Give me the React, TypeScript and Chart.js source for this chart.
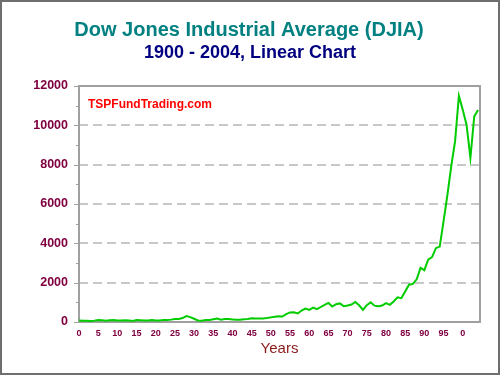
import React, { useEffect, useRef } from 'react';
import { Chart, registerables } from 'chart.js';

Chart.register(...registerables);

const years: number[] = [];
for (let y = 1900; y <= 2004; y++) years.push(y);

const djia: number[] = [
  70.7, 64.6, 64.3, 49.1, 69.6, 96.2, 94.4, 58.8, 86.2, 99.1,
  81.4, 81.7, 88.0, 78.8, 54.6, 99.2, 95.0, 74.4, 82.2, 107.2,
  71.9, 81.1, 98.7, 95.5, 120.5, 156.7, 157.2, 202.4, 300.0, 248.5,
  164.6, 77.9, 59.9, 99.9, 104.0, 144.1, 179.9, 121.0, 155.0, 150.2,
  131.1, 111.0, 119.4, 135.9, 152.3, 192.9, 177.2, 181.2, 177.3, 200.1,
  235.4, 269.2, 291.9, 280.9, 404.4, 488.4, 499.5, 435.7, 583.7, 679.4,
  615.9, 731.1, 652.1, 762.9, 874.1, 969.3, 785.7, 905.1, 943.8, 800.4,
  838.9, 890.2, 1020.0, 850.9, 616.2, 852.4, 1004.7, 831.2, 805.0, 838.7,
  964.0, 875.0, 1046.5, 1258.6, 1211.6, 1546.7, 1896.0, 1938.8, 2168.6, 2753.2,
  2633.7, 3168.8, 3301.1, 3754.1, 3834.4, 5117.1, 6448.3, 7908.3, 9181.4, 11497.1,
  10786.9, 10021.5, 8341.6, 10453.9, 10783.0,
];

const yMin = 0;
const yMax = 12000;
const yMajorStep = 2000;
const yMinorStep = 1000;
const xMin = 1900;
const xMax = 2004.5;
const xStep = 5;

const titleText = 'Dow Jones Industrial Average (DJIA)';
const subtitleText = '1900 - 2004, Linear Chart';
const watermarkText = 'TSPFundTrading.com';
const xTitleText = 'Years';

const FONT = 'Arial, "Liberation Sans", sans-serif';

export default function App() {
  const ref = useRef<HTMLCanvasElement>(null);

  useEffect(() => {
    document.body.style.margin = '0';
    const canvas = ref.current;
    if (!canvas) return;

    const decor = {
      id: 'decor',
      beforeDraw(chart: any) {
        const { ctx, width, height } = chart;
        ctx.save();
        ctx.fillStyle = '#ffffff';
        ctx.fillRect(0, 0, width, height);
        ctx.restore();
      },
      beforeDatasetsDraw(chart: any) {
        const { ctx, chartArea } = chart;
        const { left, top, right, bottom } = chartArea;
        const yScale = chart.scales.y;
        ctx.save();
        ctx.strokeStyle = '#a0a0a0';
        ctx.lineWidth = 2;
        ctx.setLineDash([]);
        ctx.strokeRect(left, top, right - left, bottom - top);
        ctx.lineWidth = 1;
        for (let v = yMin; v <= yMax; v += yMinorStep) {
          const py = Math.round(yScale.getPixelForValue(v)) + 0.5;
          const len = v % yMajorStep === 0 ? 4 : 2;
          ctx.beginPath();
          ctx.moveTo(left - 1 - len, py);
          ctx.lineTo(left - 1, py);
          ctx.stroke();
        }
        ctx.restore();
      },
      afterDraw(chart: any) {
        const { ctx, width, height, chartArea } = chart;
        ctx.save();
        ctx.textAlign = 'center';
        ctx.textBaseline = 'alphabetic';
        ctx.fillStyle = '#008080';
        ctx.font = `bold 20px ${FONT}`;
        ctx.fillText(titleText, 249, 36);
        ctx.fillStyle = '#000080';
        ctx.font = `bold 18px ${FONT}`;
        ctx.fillText(subtitleText, 250, 58);
        ctx.textAlign = 'left';
        ctx.fillStyle = '#ff0000';
        ctx.font = `bold 12px ${FONT}`;
        ctx.fillText(watermarkText, chartArea.left + 9, 108);
        ctx.strokeStyle = '#6e6e6e';
        ctx.lineWidth = 2;
        ctx.strokeRect(1, 1, width - 2, height - 2);
        ctx.restore();
      },
    };

    const chart = new Chart(canvas, {
      type: 'line',
      data: {
        datasets: [
          {
            data: years.map((yr, i) => ({ x: yr, y: djia[i] })),
            borderColor: '#00cc00',
            backgroundColor: '#00cc00',
            borderWidth: 2,
            pointRadius: 0,
            tension: 0,
            fill: false,
          },
        ],
      },
      options: {
        animation: false,
        responsive: false,
        maintainAspectRatio: false,
        layout: { padding: { left: 0, right: 20, top: 86, bottom: 0 } },
        plugins: {
          legend: { display: false },
          tooltip: { enabled: false },
          title: { display: false },
        },
        scales: {
          x: {
            type: 'linear',
            min: xMin,
            max: xMax,
            afterFit(scale: any) {
              scale.height = 53;
            },
            ticks: {
              stepSize: xStep,
              includeBounds: false,
              autoSkip: false,
              maxRotation: 0,
              padding: 6,
              color: '#800040',
              font: { family: FONT, size: 9, weight: 'bold' },
              callback: (v: any) => (Number(v) % 5 === 0 ? String(Number(v) % 100) : ''),
            },
            grid: { display: false, drawTicks: false },
            border: { display: false },
            title: {
              display: true,
              text: xTitleText,
              color: '#8b1a1a',
              font: { family: FONT, size: 15, weight: 'normal' },
              padding: { top: 0, bottom: 17 },
            },
          },
          y: {
            type: 'linear',
            min: yMin,
            max: yMax,
            afterFit(scale: any) {
              scale.width = 79;
            },
            ticks: {
              stepSize: yMajorStep,
              padding: 11,
              color: '#800040',
              font: { family: FONT, size: 12.5, weight: 'bold' },
              callback: (v: any) => String(v),
            },
            grid: {
              drawTicks: false,
              lineWidth: 2,
              color: (c: any) =>
                c.tick && (c.tick.value === yMin || c.tick.value === yMax) ? 'rgba(0,0,0,0)' : '#c8c8c8',
            },
            border: { display: false, dash: [9, 5] },
          },
        },
      },
      plugins: [decor],
    });

    return () => chart.destroy();
  }, []);

  return (
    <canvas
      ref={ref}
      width={500}
      height={375}
      style={{ display: 'block', width: 500, height: 375 }}
    />
  );
}
